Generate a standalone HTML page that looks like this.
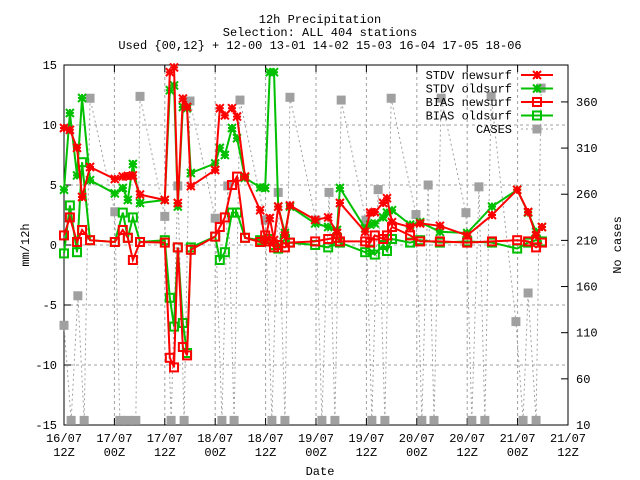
<!DOCTYPE html>
<html><head><meta charset="utf-8"><style>
body{margin:0;background:#fff}
svg{display:block;font-family:"Liberation Mono","DejaVu Sans Mono",monospace;font-size:12px}
</style></head><body>
<svg id="chart" width="640" height="480" viewBox="0 0 640 480" xmlns="http://www.w3.org/2000/svg">
<rect width="640" height="480" fill="#fff"/>
<g id="titles" text-anchor="middle">
<text x="320" y="23">12h Precipitation</text>
<text x="320" y="36">Selection: ALL    404 stations</text>
<text x="320" y="49">Used {00,12} + 12-00 13-01 14-02 15-03 16-04 17-05 18-06</text>
</g>
<g id="grid"></g>
<g id="axes"></g>
<g id="series"></g>
<g id="legend"></g>
<text x="320" y="475" text-anchor="middle">Date</text>
<text transform="translate(29,245) rotate(-90)" text-anchor="middle">mm/12h</text>
<text transform="translate(621,245) rotate(-90)" text-anchor="middle">No cases</text>
</svg>
<script>
const xTickLabels1 = ["16/07","17/07","17/07","18/07","18/07","19/07","19/07","20/07","20/07","21/07","21/07"];
const xTickLabels2 = ["12Z","00Z","12Z","00Z","12Z","00Z","12Z","00Z","12Z","00Z","12Z"];
const yTicks = [-15,-10,-5,0,5,10,15];
const y2Ticks = [10,60,110,160,210,260,310,360];
const times = [0,1.4,3.1,4.3,6.2,12.1,14,15.2,16.4,18.1,24,25.2,26.2,27.1,28.3,29.3,30.2,36,37.1,38.3,40,41.2,43.1,46.7,47.9,49,50,51,52.6,53.8,59.8,62.9,65,65.7,71.7,72.9,74,76,76.9,78.1,82.4,84.8,89.5,96,101.9,107.9,110.5,112.4,113.8];
const stdvNew = [9.75,9.6,8.1,4,6.5,5.5,5.7,5.75,5.8,4.2,3.75,14.4,14.8,3.5,12.2,11.5,4.9,6.25,11.4,10.8,11.4,10.7,5.7,2.9,0.4,2.25,0.4,3.2,0.8,3.3,2.1,2.3,1,3.5,1.1,2.7,2.75,3.5,3.9,1.9,1.5,1.8,1.6,0.8,2.5,4.6,2.75,0.8,1.5];
const stdvOld = [4.6,11,5.8,12.25,5.4,4.3,4.75,3.75,6.75,3.5,3.75,12.9,13.3,3.2,11.5,11.4,6,6.8,8.1,7.5,9.75,8.9,5.6,4.8,4.75,14.4,14.4,3.2,1,3.2,1.8,1.5,1.25,4.75,1.4,1.7,1.8,2.3,2.7,2.9,1.7,1.9,1.1,1,3.2,4.6,2.7,1.1,1.5];
const biasNew = [0.8,2.3,0.25,1.25,0.4,0.25,1.25,0.6,-1.25,0.25,0.2,-9.4,-10.2,-0.2,-8.5,-9.2,-0.4,0.7,1.5,2.3,5,5.7,0.6,0.25,0.8,0.3,-0.2,0,-0.2,0.2,0.3,0.5,0.6,0.3,0.3,0.2,0.8,0.5,0.8,1.5,0.8,0.3,0.3,0.2,0.3,0.4,0.3,-0.2,0.2];
const biasOld = [-0.7,3.3,-0.6,6.9,0.4,0.25,2.7,0.6,2.3,0.25,0.4,-4.4,-6.8,-0.2,-6.5,-9,-0.2,0.7,-1.25,-0.6,2.7,2.7,0.6,0.4,0.3,0.5,0,-0.3,0.5,0.2,0,-0.2,0.3,0.2,-0.6,-0.4,-0.8,0,-0.5,0.5,0.2,0.4,0.2,0.3,0.2,-0.3,0.2,0.4,0.3];
const caseTimes = [0,1.7,3.3,4.8,6.2,12.1,13.3,15.2,17.1,18.1,24,25.5,27.1,28.6,30,36,37.6,39,40.5,41.9,47.9,49.5,51,52.6,53.8,60,61.4,63.1,64.5,66,71.9,73.3,74.8,76.4,77.9,83.8,85.2,86.7,88.1,89.8,95.7,97.1,98.8,100.2,101.7,107.6,109.3,110.5,112.4,113.6];
const cases = [118,15,150,15,364,241,15,15,15,366,236,15,269,15,361,234,15,269,15,362,232,15,262,15,365,232,15,262,15,362,232,15,265,15,364,238,15,270,15,364,240,15,268,15,366,122,15,153,15,375];

const L=64,R=568,T=65,B=425;
const xs=h=>L+h*(R-L)/120;
const ys=v=>T+(15-v)*(B-T)/30;
const y2s=c=>B-(c-10)*(B-T)/390;
const NS="http://www.w3.org/2000/svg";
function mk(tag,attrs,parent){const e=document.createElementNS(NS,tag);for(const k in attrs)e.setAttribute(k,attrs[k]);parent.appendChild(e);return e;}
const grid=document.getElementById('grid'),axes=document.getElementById('axes'),ser=document.getElementById('series'),leg=document.getElementById('legend');
// grid
yTicks.forEach(v=>{if(v>-15&&v<15){const l=mk('line',{x1:L,x2:R,y1:ys(v),y2:ys(v),stroke:'#a0a0a0','stroke-dasharray':'3,3'},grid);}});
xTickLabels1.forEach((t,i)=>{const x=xs(i*12);if(i>0&&i<10){const l=mk('line',{x1:x,x2:x,y1:T,y2:B,stroke:'#a0a0a0','stroke-dasharray':'3,3'},grid);}});
// frame
const fr=mk('rect',{x:L,y:T,width:R-L,height:B-T,fill:'none',stroke:'#000','stroke-width':1},axes);

yTicks.forEach(v=>{const y=ys(v);mk('line',{x1:L,x2:L+7,y1:y,y2:y,stroke:'#000'},axes);
const t=mk('text',{x:L-7,y:y+4,'text-anchor':'end'},axes);t.textContent=v;});
y2Ticks.forEach(c=>{const y=y2s(c);mk('line',{x1:R-7,x2:R,y1:y,y2:y,stroke:'#000'},axes);
const t=mk('text',{x:R+8,y:y+4},axes);t.textContent=c;});
xTickLabels1.forEach((s,i)=>{const x=xs(i*12);mk('line',{x1:x,x2:x,y1:B,y2:B-7,stroke:'#000'},axes);mk('line',{x1:x,x2:x,y1:T,y2:T+7,stroke:'#000'},axes);
const t=mk('text',{x:x,y:442,'text-anchor':'middle'},axes);t.textContent=s;
const t2=mk('text',{x:x,y:456,'text-anchor':'middle'},axes);t2.textContent=xTickLabels2[i];});
// markers
function star(g,x,y,c){const d=4;mk('path',{d:`M${x-d} ${y}H${x+d}M${x} ${y-d}V${y+d}M${x-d} ${y-d}L${x+d} ${y+d}M${x-d} ${y+d}L${x+d} ${y-d}`,stroke:c,'stroke-width':2,fill:'none'},g);}
function sq(g,x,y,c){mk('rect',{x:x-4,y:y-4,width:8,height:8,stroke:c,'stroke-width':2,fill:'none'},g);}
function fsq(g,x,y,c){mk('rect',{x:x-4.5,y:y-4.5,width:9,height:9,fill:c},g);}
function series(name,tx,vals,yf,color,mark,dash,w){const g=mk('g',{},ser);
const pts=tx.map((h,i)=>xs(h)+','+yf(vals[i])).join(' ');
const pl=mk('polyline',{points:pts,fill:'none',stroke:color,'stroke-width':w,'stroke-dasharray':dash||'none'},g);
tx.forEach((h,i)=>mark(g,xs(h),yf(vals[i]),mark===fsq?'#a0a0a0':color));}
series('cases-series',caseTimes,cases,y2s,'#a0a0a0',fsq,'2,3',1);
series('bias-oldsurf-series',times,biasOld,ys,'#00c000',sq,null,2);
series('bias-newsurf-series',times,biasNew,ys,'#ff0000',sq,null,2);
series('stdv-oldsurf-series',times,stdvOld,ys,'#00c000',star,null,2);
series('stdv-newsurf-series',times,stdvNew,ys,'#ff0000',star,null,2);
// legend
const entries=[["STDV newsurf",'#ff0000',star,2,null],["STDV oldsurf",'#00c000',star,2,null],["BIAS newsurf",'#ff0000',sq,2,null],["BIAS oldsurf",'#00c000',sq,2,null],["CASES",'#a0a0a0',fsq,1,'2,3']];
entries.forEach((e,i)=>{const y=75+i*13.5;const g=mk('g',{},leg);
const t=mk('text',{x:512,y:y+4,'text-anchor':'end'},g);t.textContent=e[0];
mk('line',{x1:521,x2:553,y1:y,y2:y,stroke:e[1],'stroke-width':e[3],'stroke-dasharray':e[4]||'none'},g);e[2](g,537,y,e[1]);});
</script>
</body></html>
